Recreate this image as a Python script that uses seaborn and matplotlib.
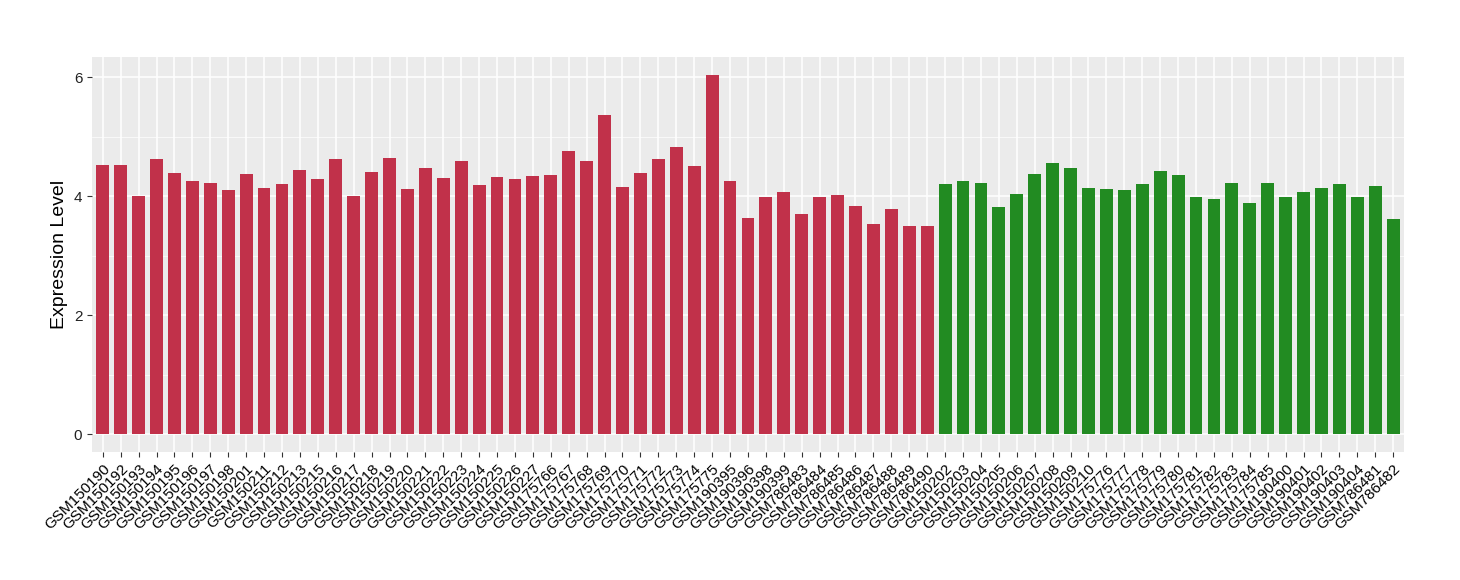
import pandas as pd
import matplotlib
matplotlib.use("Agg")
import matplotlib.pyplot as plt
import seaborn as sns
from matplotlib.ticker import MultipleLocator

red_samples = [
    "GSM150190", "GSM150192", "GSM150193", "GSM150194", "GSM150195", "GSM150196",
    "GSM150197", "GSM150198", "GSM150201", "GSM150211", "GSM150212", "GSM150213",
    "GSM150215", "GSM150216", "GSM150217", "GSM150218", "GSM150219", "GSM150220",
    "GSM150221", "GSM150222", "GSM150223", "GSM150224", "GSM150225", "GSM150226",
    "GSM150227", "GSM175766", "GSM175767", "GSM175768", "GSM175769", "GSM175770",
    "GSM175771", "GSM175772", "GSM175773", "GSM175774", "GSM175775", "GSM190395",
    "GSM190396", "GSM190398", "GSM190399", "GSM786483", "GSM786484", "GSM786485",
    "GSM786486", "GSM786487", "GSM786488", "GSM786489", "GSM786490",
]
red_values = [
    4.53, 4.53, 4.01, 4.63, 4.39, 4.26, 4.22, 4.11, 4.38, 4.14, 4.21, 4.44,
    4.29, 4.63, 4.01, 4.41, 4.65, 4.12, 4.48, 4.31, 4.60, 4.19, 4.33, 4.29,
    4.34, 4.36, 4.76, 4.60, 5.37, 4.16, 4.39, 4.63, 4.83, 4.51, 6.04, 4.26,
    3.63, 3.99, 4.07, 3.70, 3.99, 4.02, 3.84, 3.53, 3.79, 3.50, 3.50,
]

green_samples = [
    "GSM150202", "GSM150203", "GSM150204", "GSM150205", "GSM150206", "GSM150207",
    "GSM150208", "GSM150209", "GSM150210", "GSM175776", "GSM175777", "GSM175778",
    "GSM175779", "GSM175780", "GSM175781", "GSM175782", "GSM175783", "GSM175784",
    "GSM175785", "GSM190400", "GSM190401", "GSM190402", "GSM190403", "GSM190404",
    "GSM786481", "GSM786482",
]
green_values = [
    4.21, 4.26, 4.22, 3.82, 4.04, 4.38, 4.56, 4.48, 4.14, 4.12, 4.11, 4.21,
    4.43, 4.36, 3.99, 3.96, 4.22, 3.89, 4.22, 3.99, 4.07, 4.14, 4.21, 3.99,
    4.17, 3.62,
]

df = pd.DataFrame({
    "sample": red_samples + green_samples,
    "value": red_values + green_values,
    "group": ["a"] * len(red_samples) + ["b"] * len(green_samples),
})

plt.rcParams["font.family"] = ["Liberation Sans", "DejaVu Sans"]

fig = plt.figure(figsize=(14.6, 5.8), dpi=100)
ax = fig.add_axes([0.063, 0.2207, 0.8986, 0.681])
ax.set_facecolor("#EBEBEB")

sns.barplot(
    data=df, x="sample", y="value", hue="group",
    palette={"a": "#C1314A", "b": "#228B22"}, saturation=1,
    width=0.72, dodge=False, legend=False, ax=ax, zorder=3,
)

n = len(df)
ax.set_xlim(-0.6, n - 1 + 0.6)
ax.set_ylim(-0.30, 6.34)
ax.yaxis.set_major_locator(MultipleLocator(2))
ax.yaxis.set_minor_locator(MultipleLocator(1))
ax.grid(which="major", color="white", linewidth=1.1, zorder=0)
ax.grid(which="minor", axis="y", color="white", linewidth=0.5, zorder=0)
ax.set_axisbelow(True)
for s in ax.spines.values():
    s.set_visible(False)

ax.tick_params(axis="both", which="major", length=3.5, color="#333333",
               labelsize=11, labelcolor="black")
ax.tick_params(axis="y", which="minor", length=0)
ax.tick_params(axis="y", labelsize=11, labelcolor="#222222")
plt.setp(ax.get_xticklabels(), rotation=45, ha="right", rotation_mode="anchor")

ax.set_xlabel("")
ax.set_ylabel("Expression Level", fontsize=14)

fig.savefig("out.png", dpi=100)
